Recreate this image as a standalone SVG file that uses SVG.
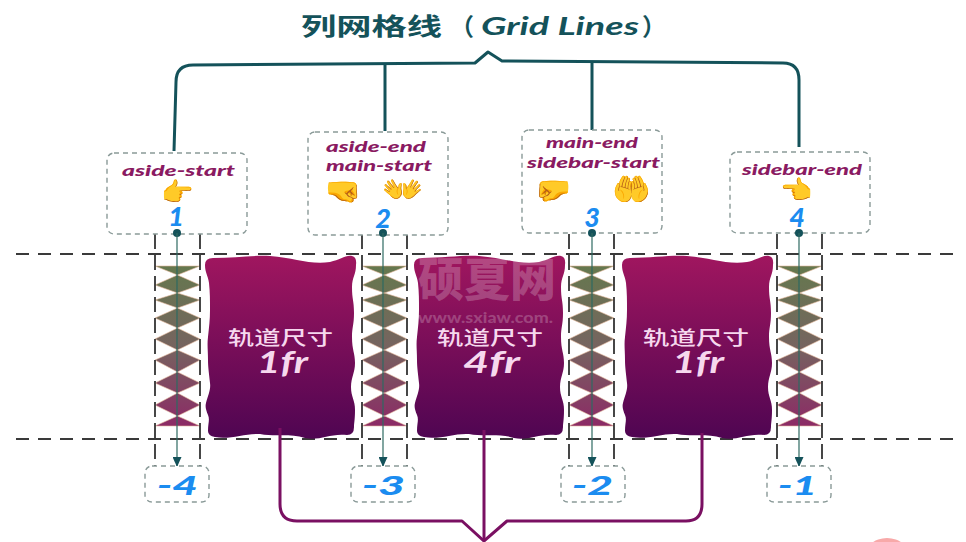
<svg xmlns="http://www.w3.org/2000/svg" xmlns:xlink="http://www.w3.org/1999/xlink" width="966" height="542" viewBox="0 0 966 542">
  <style>
    text { font-family: "Lato", "Noto Sans", sans-serif; }
    .cjk { font-family: "Noto Sans CJK SC", sans-serif; }
    .name { font-size: 15px; font-weight: 900; font-style: italic; fill: #8a1a62; }
    .num { font-size: 27px; font-weight: 900; font-style: italic; fill: #1b8cf0; text-anchor: middle; }
    .neg { font-size: 27px; font-weight: 900; font-style: italic; fill: #1b8cf0; }
    .emoji { font-family: "Noto Color Emoji", "Noto Sans", sans-serif; font-size: 26px; text-anchor: middle; }
    .label { fill: #fff; stroke: #8a9a98; stroke-width: 1.4; stroke-dasharray: 5 4; }
    .rule { fill: none; stroke: #3a3a3a; stroke-width: 2; stroke-dasharray: 13 9; }
    .side { fill: none; stroke: #333; stroke-width: 1.8; stroke-dasharray: 15 6; }
    .axis { stroke: #2e6a62; stroke-width: 1.2; fill: none; }
    .track-title { font-size: 19px; font-weight: 500; fill: #f6d8ee; }
    .track-size { font-size: 31px; font-weight: 700; font-style: italic; fill: #f6d8ee; }
    .teal { fill: none; stroke: #14525a; stroke-width: 3; stroke-linejoin: round; }
    .plum { fill: none; stroke: #7a1062; stroke-width: 3; stroke-linejoin: round; }
  </style>
  <defs>
    <linearGradient id="trackFill" x1="0" y1="0" x2="0" y2="1">
      <stop offset="0" stop-color="#a0165f"/>
      <stop offset="1" stop-color="#4f0552"/>
    </linearGradient>
    <linearGradient id="gutterFill" gradientUnits="userSpaceOnUse" x1="0" y1="266" x2="0" y2="426">
      <stop offset="0" stop-color="#65784e"/>
      <stop offset="0.5" stop-color="#76645f"/>
      <stop offset="1" stop-color="#8c2a66"/>
    </linearGradient>
    <marker id="arrow" markerUnits="userSpaceOnUse" markerWidth="10" markerHeight="9" refX="9" refY="4.5" orient="auto">
      <path d="M0 0L10 4.5L0 9Z" fill="#14525a"/>
    </marker>
    <path id="track" d="M0 10Q0 3 8 3C30 3 48 0 65 1C90 3 105 10 125 7C135 5 140 0 147 1Q152 2 151 10C151 20 147 22 147 32C147 45 149 45 149 58C149 70 147 72 147 82C147 95 150 98 150 108C150 118 146 122 146 132C146 142 150 145 150 155C150 165 149 168 149 172Q149 180 142 180C125 178 115 186 100 183C85 178 70 182 55 179C40 178 25 185 10 182Q3 181 3 176C3 168 5 165 3 160C1 155 0 152 1 148C3 140 6 135 5 128C4 118 3 112 3 105C3 95 2 90 3 82C4 72 5 65 5 55C5 45 5 38 4 28C3 20 0 18 0 10Z" fill="url(#trackFill)"/>
    <g id="gutter">
      <path fill="url(#gutterFill)" stroke="#e4b79a" stroke-width="0.6" d="M0 266H45L22.5 275L45 285L22.5 293L45 300L22.5 308L45 318L22.5 328L45 339L22.5 350L45 360L22.5 372L45 383L22.5 393L45 405L22.5 416L45 426H0L22.5 416L0 405L22.5 393L0 383L22.5 372L0 360L22.5 350L0 339L22.5 328L0 318L22.5 308L0 300L22.5 293L0 285L22.5 275Z"/>
      <path class="side" d="M0 234V474M45 234V474"/>
    </g>
  </defs>

  <rect width="966" height="542" fill="#fff"/>
  <ellipse cx="887" cy="558" rx="23" ry="20" fill="#f8a9a9"/>

  <text id="title" y="35" font-weight="700" font-size="24" fill="#14525a"><tspan class="cjk" x="301" textLength="141" lengthAdjust="spacingAndGlyphs">列网格线</tspan><tspan class="cjk" x="450">（</tspan><tspan x="481" font-style="italic" textLength="158" lengthAdjust="spacingAndGlyphs">Grid Lines</tspan><tspan class="cjk" x="642">）</tspan></text>

  <g id="gutters">
    <use href="#gutter" x="155"/>
    <use href="#gutter" x="362"/>
    <use href="#gutter" x="569"/>
    <use href="#gutter" x="777"/>
  </g>

  <path class="rule" d="M16 254H953M16 439H953"/>

  <g id="track-1">
    <use href="#track" x="205" y="255"/>
    <text class="track-title cjk" x="228" y="345" textLength="105" lengthAdjust="spacingAndGlyphs">轨道尺寸</text>
    <text class="track-size" x="257" y="373" textLength="51" lengthAdjust="spacingAndGlyphs">1fr</text>
  </g>
  <g id="track-2">
    <use href="#track" x="414" y="255"/>
    <text class="track-title cjk" x="437" y="345" textLength="106" lengthAdjust="spacingAndGlyphs">轨道尺寸</text>
    <text class="track-size" x="463" y="373" textLength="57" lengthAdjust="spacingAndGlyphs">4fr</text>
  </g>
  <g id="track-3">
    <use href="#track" x="622" y="255"/>
    <text class="track-title cjk" x="643" y="345" textLength="106" lengthAdjust="spacingAndGlyphs">轨道尺寸</text>
    <text class="track-size" x="672" y="373" textLength="52" lengthAdjust="spacingAndGlyphs">1fr</text>
  </g>

  <g id="connectors">
    <path class="teal" d="M174 151L176 82Q176 65 193 65L475 63L488 52L502 61L783 63Q799 63 799 80V147"/>
    <path class="teal" d="M385 63V131M592 62V130"/>
    <path class="plum" d="M280 428V504Q280 521 297 521H462L484 541L507 521H686Q702 521 702 504V433"/>
    <path class="plum" d="M484 430V541"/>
  </g>

  <g id="line-1">
    <rect class="label" x="107" y="153" width="140" height="81" rx="7"/>
    <text class="name" x="122" y="176" textLength="113" lengthAdjust="spacingAndGlyphs">aside-start</text>
    <text class="emoji" x="178" y="201">👉</text>
    <text class="num" x="176" y="226">1</text>
    <circle cx="177" cy="233" r="4" fill="#14525a"/>
    <path class="axis" d="M177 233V466" marker-end="url(#arrow)"/>
    <rect class="label" x="145" y="466" width="64" height="36" rx="7"/>
    <text class="neg" x="157" y="495" textLength="41" lengthAdjust="spacingAndGlyphs">-4</text>
  </g>
  <g id="line-2">
    <rect class="label" x="308" y="132" width="140" height="103" rx="7"/>
    <text class="name" x="326" y="152" textLength="100" lengthAdjust="spacingAndGlyphs">aside-end</text>
    <text class="name" x="326" y="171" textLength="106" lengthAdjust="spacingAndGlyphs">main-start</text>
    <text class="emoji" x="343" y="201" style="font-size:29px">🤜</text>
    <text class="emoji" x="403" y="201" style="font-size:33px">👐</text>
    <text class="num" x="383" y="228">2</text>
    <circle cx="383" cy="233" r="4" fill="#14525a"/>
    <path class="axis" d="M383 233V466" marker-end="url(#arrow)"/>
    <rect class="label" x="351" y="466" width="64" height="36" rx="7"/>
    <text class="neg" x="362" y="495" textLength="43" lengthAdjust="spacingAndGlyphs">-3</text>
  </g>
  <g id="line-3">
    <rect class="label" x="522" y="130" width="140" height="103" rx="7"/>
    <text class="name" x="546" y="148" textLength="92" lengthAdjust="spacingAndGlyphs">main-end</text>
    <text class="name" x="527" y="168" textLength="133" lengthAdjust="spacingAndGlyphs">sidebar-start</text>
    <text class="emoji" x="553" y="200" style="font-size:29px">🤛</text>
    <text class="emoji" x="632" y="200" style="font-size:31px">🤲</text>
    <text class="num" x="592" y="227">3</text>
    <circle cx="592" cy="233" r="4" fill="#14525a"/>
    <path class="axis" d="M592 233V466" marker-end="url(#arrow)"/>
    <rect class="label" x="561" y="466" width="64" height="36" rx="7"/>
    <text class="neg" x="572" y="495" textLength="41" lengthAdjust="spacingAndGlyphs">-2</text>
  </g>
  <g id="line-4">
    <rect class="label" x="730" y="152" width="140" height="81" rx="7"/>
    <text class="name" x="742" y="175" textLength="120" lengthAdjust="spacingAndGlyphs">sidebar-end</text>
    <text class="emoji" x="797" y="199">👈</text>
    <text class="num" x="797" y="227">4</text>
    <circle cx="799" cy="233" r="4" fill="#14525a"/>
    <path class="axis" d="M799 233V466" marker-end="url(#arrow)"/>
    <rect class="label" x="767" y="466" width="64" height="36" rx="7"/>
    <text class="neg" x="778" y="495" textLength="39" lengthAdjust="spacingAndGlyphs">-1</text>
  </g>

  <g id="stamp" fill="#fff" fill-opacity="0.22" font-weight="900">
    <text class="cjk" x="418" y="296" font-size="46" textLength="138" lengthAdjust="spacingAndGlyphs">硕夏网</text>
    <text x="418" y="323" font-size="15" textLength="135" lengthAdjust="spacingAndGlyphs">www.sxiaw.com.</text>
  </g>
</svg>
